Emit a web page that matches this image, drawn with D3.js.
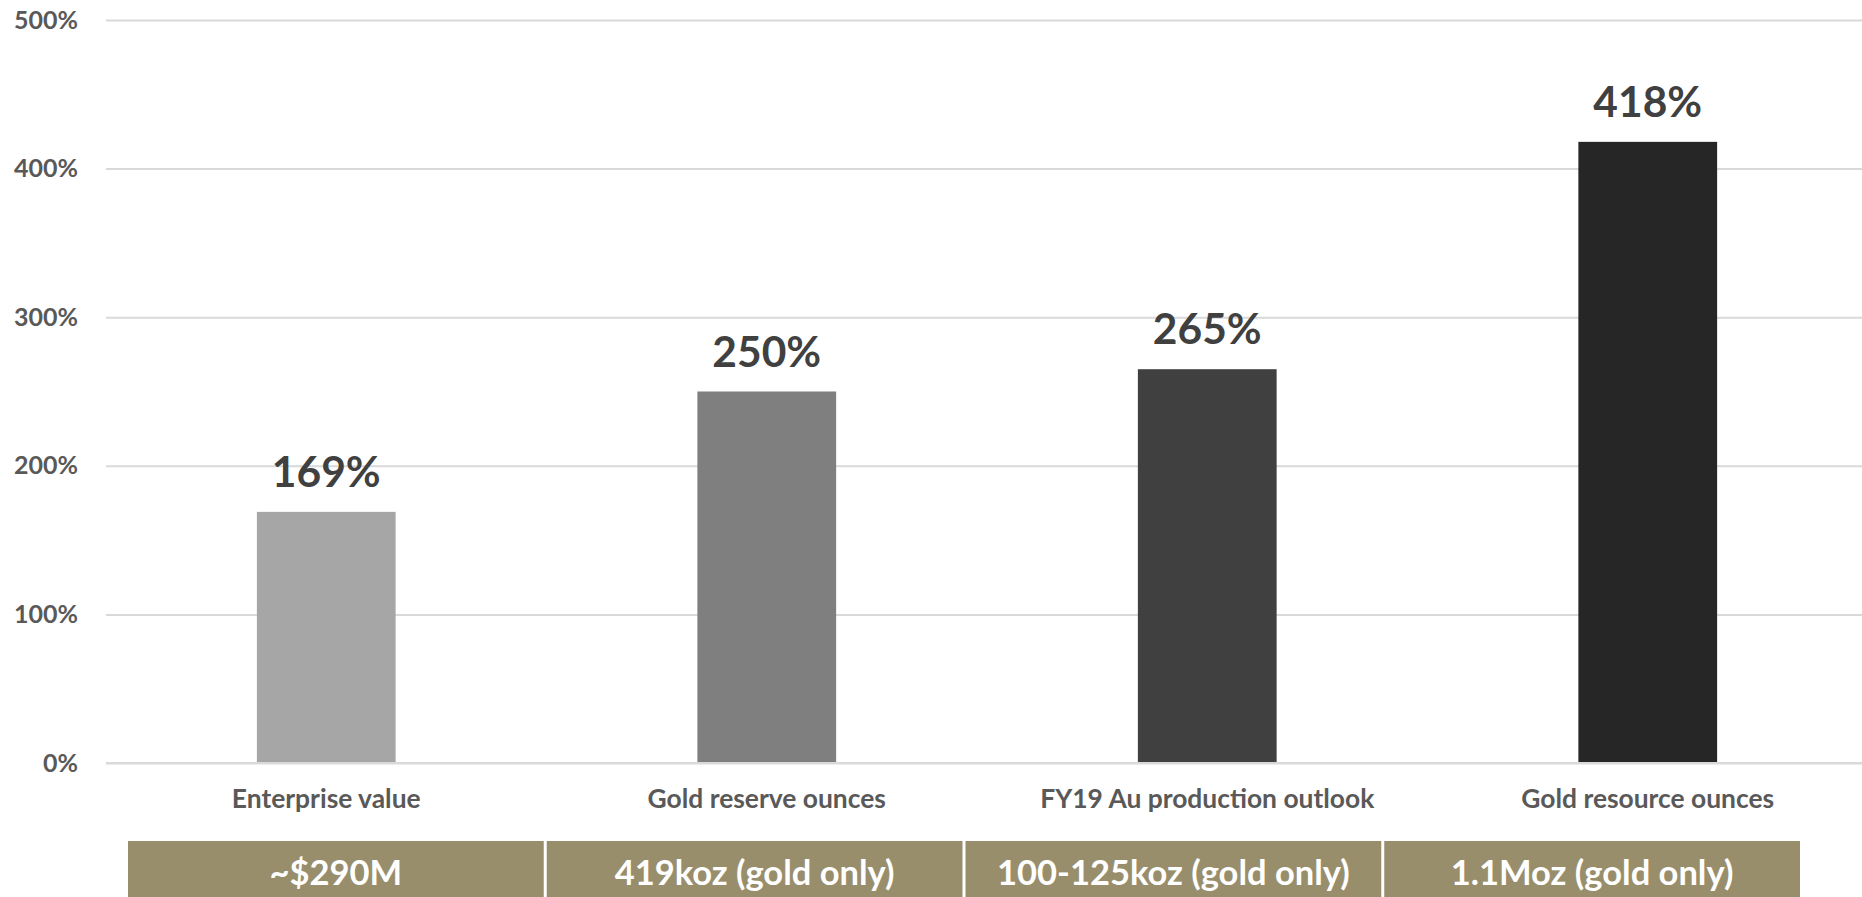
<!DOCTYPE html>
<html>
<head>
<meta charset="utf-8">
<script src="https://cdn.jsdelivr.net/npm/d3@7"></script>
<style>
  html, body { margin: 0; padding: 0; background: #ffffff; }
  svg { display: block; }
  text { font-family: Lato, "Open Sans", sans-serif; font-weight: 700; }
</style>
</head>
<body>
<svg id="chart" width="1862" height="897"></svg>
<script>
// ---- data ----
const categories = ["Enterprise value", "Gold reserve ounces", "FY19 Au production outlook", "Gold resource ounces"];
const values = [169, 250, 265, 418];
const valueLabels = ["169%", "250%", "265%", "418%"];
const barColors = ["#a6a6a6", "#7f7f7f", "#404040", "#262626"];
const yTicks = [0, 100, 200, 300, 400, 500];
const tableLabels = ["~$290M", "419koz (gold only)", "100-125koz (gold only)", "1.1Moz (gold only)"];

// ---- layout ----
const W = 1862, H = 897;
const svg = d3.select("#chart");

const y = d3.scaleLinear().domain([0, 500]).range([763, 20]);
const x = d3.scaleBand().domain(categories).range([106, 1868])
  .paddingInner(0.685).paddingOuter(0.3425);
const xt = d3.scaleBand().domain(categories).range([128, 1800])
  .paddingInner(0.0072).paddingOuter(0);

// gridlines
const yAxis = d3.axisLeft(y).tickValues(yTicks).tickSize(-(W - 106)).tickFormat(d => d + "%");
const gAxis = svg.append("g").attr("transform", "translate(106,0)").call(yAxis);
gAxis.select(".domain").remove();
gAxis.selectAll(".tick line").attr("stroke", "#d9d9d9").attr("stroke-width", 2);
gAxis.selectAll(".tick text")
  .attr("x", -28)
  .attr("fill", "#595959")
  .style("font-size", "25px")
  .style("font-family", "Lato, sans-serif")
  .style("font-weight", "700");

// bars
svg.append("g").selectAll("rect").data(categories).join("rect")
  .attr("x", d => x(d))
  .attr("width", x.bandwidth())
  .attr("y", (d, i) => y(values[i]))
  .attr("height", (d, i) => y(0) - y(values[i]))
  .attr("fill", (d, i) => barColors[i]);

// redraw baseline on top of bars
svg.append("line")
  .attr("x1", 106).attr("x2", W)
  .attr("y1", y(0)).attr("y2", y(0))
  .attr("stroke", "#d9d9d9").attr("stroke-width", 2);

// value labels
svg.append("g").selectAll("text").data(categories).join("text")
  .attr("x", d => x(d) + x.bandwidth() / 2)
  .attr("y", (d, i) => y(values[i]) - 25)
  .attr("text-anchor", "middle")
  .attr("fill", "#404040")
  .style("font-size", "42.5px")
  .text((d, i) => valueLabels[i]);

// category labels
svg.append("g").selectAll("text").data(categories).join("text")
  .attr("x", d => x(d) + x.bandwidth() / 2)
  .attr("y", 808)
  .attr("text-anchor", "middle")
  .attr("fill", "#595959")
  .style("font-size", "26.4px")
  .text(d => d);

// table row
const tg = svg.append("g");
tg.selectAll("rect").data(categories).join("rect")
  .attr("x", d => xt(d))
  .attr("width", xt.bandwidth())
  .attr("y", 841)
  .attr("height", H - 841 + 10)
  .attr("fill", "#998e6c");
tg.selectAll("text").data(categories).join("text")
  .attr("x", d => xt(d) + xt.bandwidth() / 2)
  .attr("y", 885)
  .attr("text-anchor", "middle")
  .attr("fill", "#ffffff")
  .style("font-size", "34.5px")
  .text((d, i) => tableLabels[i]);
</script>
</body>
</html>
